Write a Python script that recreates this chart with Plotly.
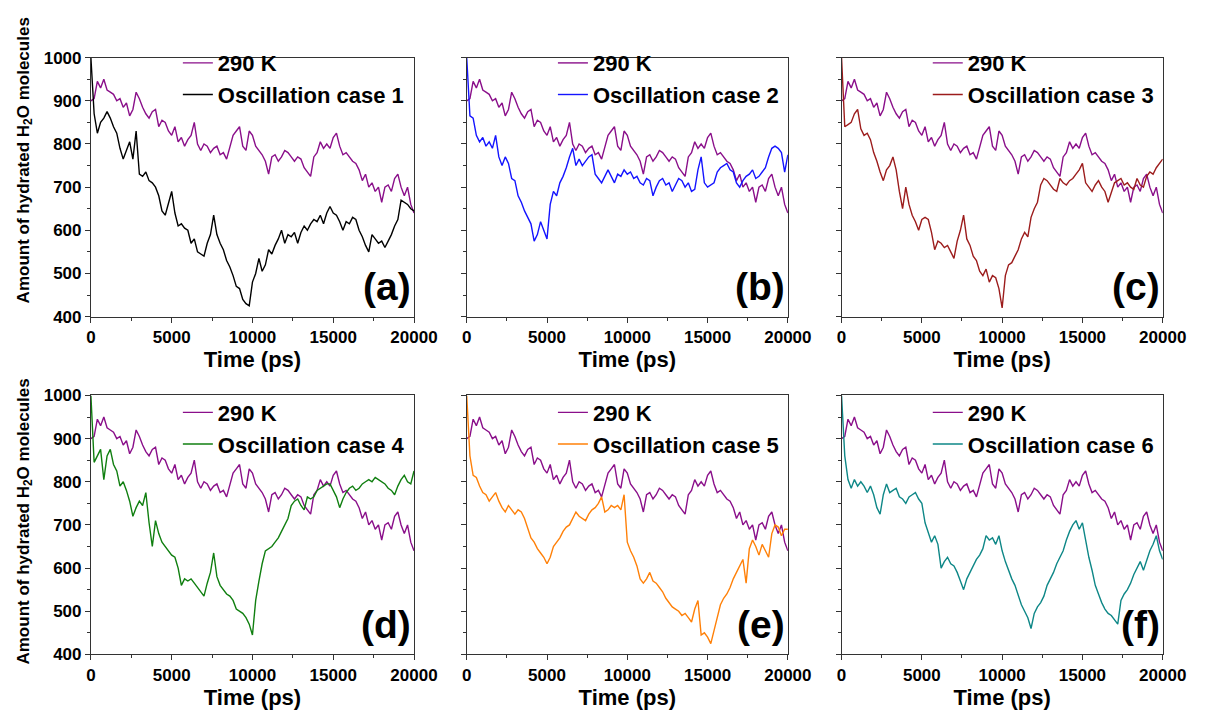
import plotly.graph_objects as go

# ---------------- data ----------------
TIME_PS = list(range(0, 20001, 200))

T290 = [
    900, 905, 945, 930, 950, 925, 920, 915, 900, 905,
    885, 895, 865, 880, 920, 905, 885, 870, 860, 875,
    880, 840, 855, 850, 830, 820, 840, 805, 815, 795,
    810, 820, 850, 800, 785, 800, 795, 780, 790, 795,
    775, 780, 765, 790, 820, 830, 840, 795, 785, 830,
    820, 795, 785, 775, 760, 730, 770, 775, 760, 770,
    785, 780, 770, 760, 770, 765, 745, 735, 725, 770,
    780, 805, 790, 800, 790, 815, 825, 795, 775, 780,
    770, 760, 755, 740, 715, 730, 700, 710, 690, 700,
    665, 700, 705, 690, 720, 730, 700, 680, 700, 660,
    640,
]

CASE1 = [
    1000, 870, 825, 850, 860, 875, 860, 840, 825, 790,
    765, 785, 805, 765, 830, 730, 725, 735, 715, 710,
    700, 680, 645, 635, 660, 690, 640, 610, 615, 605,
    600, 570, 580, 550, 545, 540, 570, 590, 635, 590,
    570, 555, 530, 515, 495, 470, 465, 440, 430, 425,
    480, 500, 535, 505, 520, 555, 545, 565, 580, 600,
    570, 590, 585, 595, 570, 595, 610, 600, 615, 625,
    620, 635, 615, 640, 655, 640, 635, 620, 600, 620,
    615, 630, 625, 600, 585, 565, 550, 590, 580, 570,
    575, 560, 575, 590, 610, 625, 670, 665, 660, 650,
    645,
]

CASE2 = [
    1000, 865, 860, 820, 805, 815, 795, 805, 790, 820,
    770, 750, 770, 755, 720, 715, 680, 665, 645, 630,
    615, 575, 590, 620, 600, 580, 660, 690, 680, 710,
    725, 745, 770, 790, 750, 765, 750, 760, 770, 775,
    730, 720, 710, 725, 740, 725, 710, 730, 725, 740,
    730, 735, 720, 725, 710, 705, 720, 715, 680, 700,
    715, 720, 705, 710, 690, 705, 720, 715, 700, 710,
    690, 695, 740, 770, 710, 700, 705, 710, 735, 745,
    750, 755, 740, 735, 710, 700, 715, 725, 730, 740,
    720, 725, 735, 745, 770, 790, 795, 790, 780, 735,
    775,
]

CASE3 = [
    1000, 840, 845, 850, 870, 880, 835, 820, 825, 810,
    780, 760, 735, 715, 740, 750, 770, 740, 690, 650,
    700, 660, 635, 620, 600, 625, 630, 625, 595, 555,
    575, 570, 560, 565, 550, 535, 575, 600, 635, 580,
    565, 540, 530, 505, 495, 510, 480, 495, 490, 465,
    420, 495, 520, 525, 540, 555, 580, 595, 585, 630,
    650, 665, 705, 720, 715, 705, 695, 690, 720, 710,
    705, 715, 720, 730, 740, 755, 710, 700, 690, 705,
    715, 700, 690, 665, 690, 710, 715, 720, 705, 710,
    700, 695, 720, 705, 700, 725, 735, 730, 745, 755,
    765,
]

CASE4 = [
    1000, 845, 860, 875, 805, 860, 875, 840, 825, 790,
    800, 780, 755, 720, 740, 755, 745, 775, 705, 650,
    710, 680, 660, 650, 640, 630, 625, 600, 560, 575,
    570, 575, 565, 555, 545, 535, 565, 590, 635, 580,
    560, 550, 540, 535, 525, 505, 500, 495, 485, 470,
    445, 525, 570, 610, 640, 645, 650, 660, 670, 685,
    700, 715, 745, 755, 760, 745, 735, 765, 760, 765,
    780, 785, 790, 795, 795, 780, 765, 740, 760, 775,
    785, 790, 780, 785, 795, 800, 805, 800, 810, 805,
    800, 795, 785, 780, 770, 790, 805, 815, 800, 795,
    825,
]

CASE5 = [
    1000, 860, 815, 810, 790, 775, 770, 755, 765, 775,
    755, 740, 730, 745, 735, 725, 735, 730, 715, 690,
    670, 660, 645, 635, 625, 610, 625, 650, 660, 670,
    685, 695, 700, 715, 730, 720, 715, 710, 725, 735,
    740, 750, 765, 730, 735, 745, 740, 745, 735, 770,
    660, 640, 625, 605, 575, 565, 575, 590, 570, 565,
    555, 545, 530, 520, 510, 505, 500, 490, 495, 485,
    475, 505, 525, 445, 450, 440, 425, 455, 485, 515,
    530, 540, 555, 575, 590, 605, 620, 565, 645, 665,
    650, 630, 655, 640, 625, 680, 700, 695, 675, 690,
    690,
]

CASE6 = [
    1000, 860, 805, 785, 805, 790, 800, 790, 775, 790,
    770, 740, 725, 770, 795, 775, 780, 785, 765, 760,
    750, 765, 770, 775, 760, 750, 705, 680, 660, 675,
    655, 600, 615, 625, 610, 605, 590, 570, 550, 575,
    590, 605, 620, 630, 645, 675, 665, 670, 655, 675,
    640, 615, 595, 575, 560, 535, 515, 500, 485, 460,
    495, 510, 520, 535, 560, 575, 590, 610, 625, 640,
    665, 685, 700, 710, 690, 705, 665, 625, 595, 560,
    540, 520, 505, 495, 490, 480, 470, 525, 540, 550,
    565, 585, 600, 615, 595, 620, 640, 655, 675, 640,
    620,
]

REF_NAME = "290 K"
CASE_NAMES = ["Oscillation case 1", "Oscillation case 2", "Oscillation case 3",
              "Oscillation case 4", "Oscillation case 5", "Oscillation case 6"]
CASE_SERIES = [CASE1, CASE2, CASE3, CASE4, CASE5, CASE6]
PANEL_LABELS = ["(a)", "(b)", "(c)", "(d)", "(e)", "(f)"]
X_TICKS = [0, 5000, 10000, 15000, 20000]
Y_TICKS = [400, 500, 600, 700, 800, 900, 1000]
X_TITLE = "Time (ps)"
Y_TITLE = "Amount of hydrated H<sub>2</sub>O molecules"

# ---------------- styling ----------------
REF_COLOR = "#8a0f8a"
CASE_COLORS = ["#000000", "#1414ff", "#9c1c1c", "#107f10", "#ff8008", "#0e8787"]
FONT = "Liberation Sans, Arial, sans-serif"
AXIS_COLOR = "#333333"

W, H = 1216, 715
X_DOMAINS = [[88 / W, 419 / W], [473 / W, 802 / W], [857 / W, 1186 / W]]
Y_DOMAINS = [[1 - 316 / H, 1 - 50 / H], [1 - 663 / H, 1 - 397 / H]]
LEGEND_TOP_PX = [34, 393]      # per row
YTITLE_CENTER_PX = [156, 527]  # per row

fig = go.Figure()
layout = dict(
    width=W, height=H,
    margin=dict(l=0, r=0, t=0, b=0),
    paper_bgcolor="white", plot_bgcolor="white",
    font=dict(family=FONT, color="black"),
    annotations=[],
)

for i in range(6):
    row, col = divmod(i, 3)
    sfx = "" if i == 0 else str(i + 1)
    xa, ya = "x" + sfx, "y" + sfx
    lg = "legend" + sfx

    fig.add_trace(go.Scatter(
        x=TIME_PS, y=T290, mode="lines", name=REF_NAME,
        line=dict(color=REF_COLOR, width=1.4),
        xaxis=xa, yaxis=ya, legend=lg,
    ))
    fig.add_trace(go.Scatter(
        x=TIME_PS, y=CASE_SERIES[i], mode="lines", name=CASE_NAMES[i],
        line=dict(color=CASE_COLORS[i], width=1.4),
        xaxis=xa, yaxis=ya, legend=lg,
    ))

    xd, yd = X_DOMAINS[col], Y_DOMAINS[row]
    layout["xaxis" + sfx] = dict(
        domain=xd, anchor=ya, range=[0, 20000],
        tickvals=X_TICKS, tickformat="d",
        ticks="outside", ticklen=5, tickwidth=1, tickcolor=AXIS_COLOR,
        minor=dict(dtick=2500, tick0=0, ticks="outside", ticklen=3,
                   tickcolor=AXIS_COLOR),
        showline=True, linecolor=AXIS_COLOR, linewidth=1, mirror=True,
        showgrid=False, zeroline=False,
        tickfont=dict(size=17, family=FONT, weight="bold", color="black"),
        title=dict(text=X_TITLE, standoff=3,
                   font=dict(size=22, family=FONT, weight="bold", color="black")),
    )
    layout["yaxis" + sfx] = dict(
        domain=yd, anchor=xa, range=[400, 1000],
        tickvals=Y_TICKS,
        ticks="outside", ticklen=5, tickwidth=1, tickcolor=AXIS_COLOR,
        minor=dict(dtick=50, tick0=400, ticks="outside", ticklen=3,
                   tickcolor=AXIS_COLOR),
        showline=True, linecolor=AXIS_COLOR, linewidth=1, mirror=True,
        showgrid=False, zeroline=False,
        showticklabels=(col == 0),
        tickfont=dict(size=17, family=FONT, weight="bold", color="black"),
    )
    text_left = xd[0] + 0.39 * (xd[1] - xd[0])
    layout[lg] = dict(
        x=text_left - 40 / W, xanchor="left",
        y=1 - LEGEND_TOP_PX[row] / H, yanchor="top",
        bgcolor="rgba(0,0,0,0)", borderwidth=0,
        font=dict(size=22, family=FONT, weight="bold", color="black"),
        tracegroupgap=0,
    )
    layout["annotations"].append(dict(
        text=PANEL_LABELS[i], xref=xa + " domain", yref=ya + " domain",
        x=0.998, y=0.025, xanchor="right", yanchor="bottom", showarrow=False,
        font=dict(size=39, family=FONT, weight="bold", color="black"),
    ))
    if col == 0:
        layout["annotations"].append(dict(
            text=Y_TITLE, xref="paper", yref="paper",
            x=20 / W, y=1 - YTITLE_CENTER_PX[row] / H,
            xanchor="center", yanchor="middle", textangle=-90, showarrow=False,
            font=dict(size=17, family=FONT, weight="bold", color="black"),
        ))

fig.update_layout(**layout)
fig.write_html("out.html")
